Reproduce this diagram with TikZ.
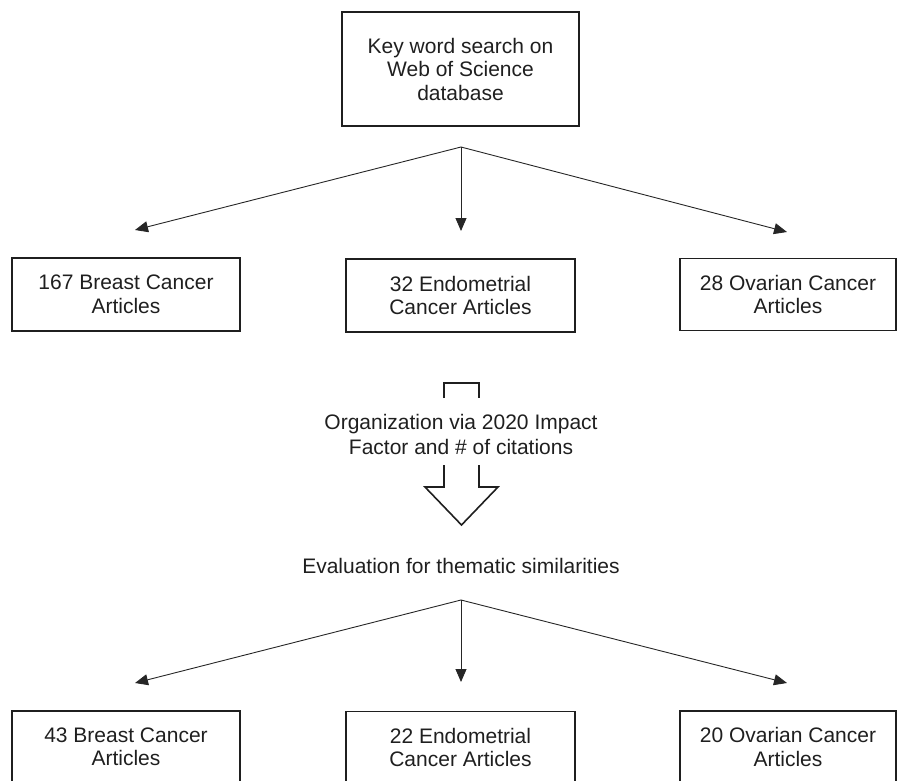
\documentclass[tikz,border=0pt]{standalone}
\usepackage{fontspec}
\setmainfont{Liberation Sans}
\usetikzlibrary{arrows.meta,calc}
\begin{document}
\begin{tikzpicture}[x=1pt,y=-1pt,
  box/.style={draw=black!88, line width=1.8pt, align=center,
    font=\fontsize{21}{23.5}\selectfont, inner sep=0pt, text=black!88},
  conn/.style={draw=black!85, line width=0.9pt, -{Triangle[length=13pt,width=11pt]}},
  lbl/.style={align=center, font=\fontsize{21}{24.5}\selectfont, inner sep=0pt, text=black!88},
  blockarrow/.style={draw=black!88, line width=1.6pt, line join=miter}]
\clip (0,0) rectangle (897,780);
% top box
\node[box, minimum width=237pt, minimum height=114pt] (top) at (460.5,69)
  {Key word search on\\Web of Science\\database};
% first row
\node[box, minimum width=228pt, minimum height=73pt] (b1) at (126,294.5) {167 Breast Cancer\\Articles};
\node[box, minimum width=229pt, minimum height=73pt] (e1) at (460.5,295.5) {32 Endometrial\\Cancer Articles};
\node[box, minimum width=216pt, minimum height=72pt] (o1) at (788,294.5) {28 Ovarian Cancer\\Articles};
% middle labels
\node[lbl] (org) at (461,434.5) {Organization via 2020 Impact\\Factor and \# of citations};
\node[lbl] (eval) at (461,566) {Evaluation for thematic similarities};
% second row
\node[box, minimum width=228pt, minimum height=72pt] (b2) at (126,747) {43 Breast Cancer\\Articles};
\node[box, minimum width=229pt, minimum height=72pt] (e2) at (460.5,747.5) {22 Endometrial\\Cancer Articles};
\node[box, minimum width=216pt, minimum height=72pt] (o2) at (788,747) {20 Ovarian Cancer\\Articles};
% split points and tips
\coordinate (s1) at (461,147);
\coordinate (t1a) at (135,230);
\coordinate (t1b) at (461,231);
\coordinate (t1c) at (787,232);
\coordinate (s2) at (461,600);
\coordinate (t2a) at (135,683);
\coordinate (t2b) at (461,682);
\coordinate (t2c) at (787,683);
\draw[conn] (s1) -- (t1a);
\draw[conn] (s1) -- (t1b);
\draw[conn] (s1) -- (t1c);
\draw[conn] (s2) -- (t2a);
\draw[conn] (s2) -- (t2b);
\draw[conn] (s2) -- (t2c);
% hollow block arrow, interrupted by the label
\draw[blockarrow] (444,398) -- (444,383) -- (479,383) -- (479,398);
\draw[blockarrow] (444,465) -- (444,487) -- (425,487) -- (461.5,525) -- (498,487) -- (479,487) -- (479,465);
\end{tikzpicture}
\end{document}
